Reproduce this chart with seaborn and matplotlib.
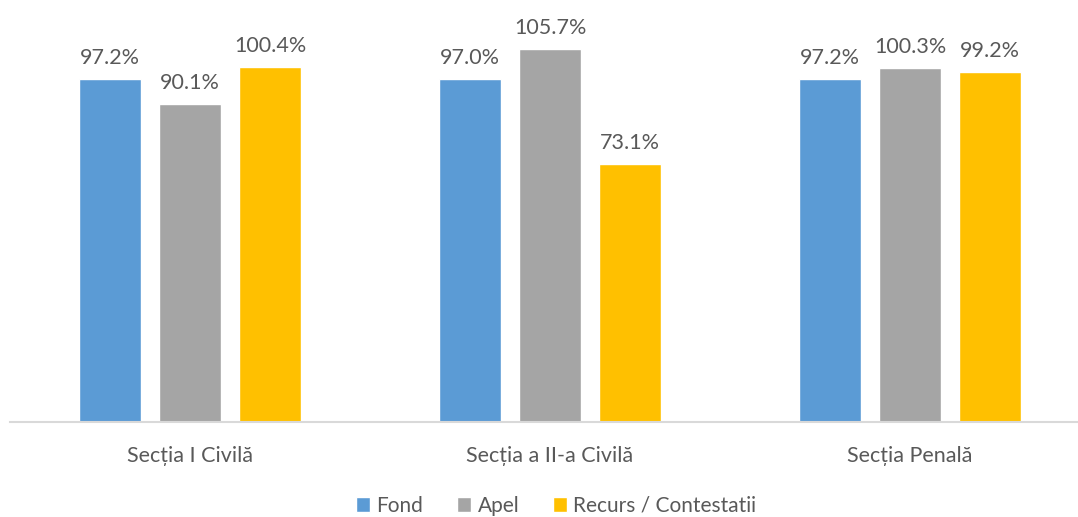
import numpy as np
import pandas as pd
import matplotlib
matplotlib.use('Agg')
import matplotlib.pyplot as plt
import seaborn as sns

sections = ['Secția I Civilă', 'Secția a II-a Civilă', 'Secția Penală']
series = ['Fond', 'Apel', 'Recurs / Contestatii']
fond = [97.2, 97.0, 97.2]
apel = [90.1, 105.7, 100.3]
recurs = [100.4, 73.1, 99.2]
colors = ['#5B9BD5', '#A5A5A5', '#FFC000']

rows = []
for name, vals in zip(series, [fond, apel, recurs]):
    for sec, v in zip(sections, vals):
        rows.append({'sectie': sec, 'serie': name, 'val': v})
df = pd.DataFrame(rows)

sns.set_style('white')
plt.rcParams['font.family'] = ['Lato', 'DejaVu Sans']

fig = plt.figure(figsize=(10.78, 5.17), dpi=100)
ax = fig.add_axes([10 / 1078, 95 / 517, 1080 / 1078, 422 / 517])

sns.barplot(data=df, x='sectie', y='val', hue='serie', order=sections,
            hue_order=series, palette=colors, width=0.667, gap=0.225,
            saturation=1, ax=ax, legend=True)

for cont in ax.containers:
    ax.bar_label(cont, labels=['%.1f%%' % v for v in cont.datavalues],
                 padding=8, fontsize=15.5, color='#595959')

ax.set_xlim(-0.5, 2.5)
ax.set_ylim(0, 119.5)
ax.set_xlabel('')
ax.set_ylabel('')
ax.set_yticks([])
for s in ['top', 'right', 'left']:
    ax.spines[s].set_visible(False)
ax.spines['bottom'].set_color('#D9D9D9')
ax.spines['bottom'].set_linewidth(1.5)
ax.tick_params(axis='x', length=0, pad=17, labelsize=15.5, labelcolor='#595959')

handles, labels = ax.get_legend_handles_labels()
ax.legend_.remove()
fig.legend(handles, labels, loc='center', bbox_to_anchor=(556 / 1078, 1 - 506 / 517),
           ncol=3, frameon=False, fontsize=15, labelcolor='#595959',
           handlelength=0.7, handleheight=0.7, handletextpad=0.3, columnspacing=1.6)

fig.savefig('out.png', dpi=100)
